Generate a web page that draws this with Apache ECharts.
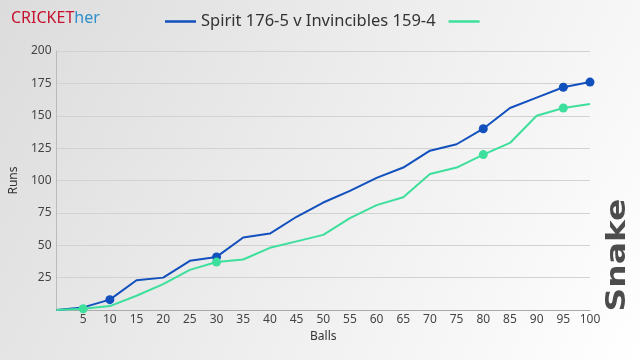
<!DOCTYPE html>
<html>
<head>
<meta charset="utf-8">
<script src="https://cdn.jsdelivr.net/npm/echarts@6/dist/echarts.min.js"></script>
<style>
html,body{margin:0;padding:0;}
#c{width:640px;height:360px;}
</style>
</head>
<body>
<div id="c"></div>
<script>
var balls = [0,5,10,15,20,25,30,35,40,45,50,55,60,65,70,75,80,85,90,95,100];
var spiritRuns = [0,2,8,23,25,38,41,56,59,72,83,92,102,110,123,128,140,156,164,172,176];
var invinciblesRuns = [0,1,3,11,20,31,37,39,48,53,58,71,81,87,105,110,120,129,150,156,159];
var spiritWickets = [10,30,80,95,100];
var invinciblesWickets = [5,30,80,95];
var legendName1 = 'Spirit 176-5 v Invincibles 159-4';
var legendName2 = ' ';
var yTicks = [25,50,75,100,125,150,175,200];

function build(runs, wk){
  return balls.map(function(b,i){
    var item = {value:[b, runs[i]]};
    if (wk.indexOf(b) >= 0) { item.symbol = 'circle'; item.symbolSize = 9; }
    else { item.symbol = 'none'; }
    return item;
  });
}

var chart = echarts.init(document.getElementById('c'), null, {renderer:'canvas'});
var font = 'Noto Sans';
chart.setOption({
  animation:false,
  backgroundColor:{type:'linear',x:0,y:0,x2:1,y2:1,colorStops:[{offset:0,color:'#dcdcdc'},{offset:1,color:'#ffffff'}]},
  title:{
    text:'{a|CRICKET}{b|her}',
    left:6, top:5,
    textStyle:{fontWeight:'normal',rich:{a:{color:'#c4122f',fontSize:16,fontFamily:font,fontWeight:'normal'},b:{color:'#2e8fcc',fontSize:16,fontFamily:font,fontWeight:'normal'}}}
  },
  legend:{
    top:8, left:160,
    itemWidth:31, itemHeight:2.5, itemGap:13,
    textStyle:{fontSize:16.5,color:'#333',fontFamily:font},
    data:[{name:legendName1, icon:'rect'}, {name:legendName2, icon:'rect'}]
  },
  grid:{left:51,right:50,top:51,bottom:50},
  xAxis:{
    type:'value', min:0, max:100, interval:5,
    name:'Balls', nameLocation:'middle', nameGap:21,
    nameTextStyle:{fontSize:12,color:'#333',fontFamily:font},
    axisLine:{show:true,lineStyle:{color:'#aaaaaa'}},
    axisTick:{show:false},
    splitLine:{show:false},
    axisLabel:{fontSize:12,color:'#444',fontFamily:font,margin:4,formatter:function(v){return v===0?'':String(v);}}
  },
  yAxis:{
    type:'value', min:0, max:200, interval:25,
    name:'Runs', nameLocation:'middle', nameGap:33,
    nameTextStyle:{fontSize:12,color:'#333',fontFamily:font},
    axisLine:{show:true,lineStyle:{color:'#bbbbbb'}},
    axisTick:{show:false},
    splitLine:{show:true,lineStyle:{color:'#d2d2d2'}},
    axisLabel:{fontSize:12,color:'#444',fontFamily:font,margin:5,formatter:function(v){return yTicks.indexOf(v)>=0?String(v):'';}}
  },
  graphic:[{
    type:'text', x:618, y:255, rotation:Math.PI/2, scaleX:1.22,
    style:{text:'Snake', fill:'#4c4c4c', font:'bold 27px "DejaVu Sans"', align:'center', verticalAlign:'middle'}
  }],
  series:[
    {name:legendName1, type:'line', data:build(spiritRuns, spiritWickets), color:'#1150bd',
     lineStyle:{width:2,color:'#1150bd'}, itemStyle:{color:'#1150bd'}, symbol:'none'},
    {name:legendName2, type:'line', data:build(invinciblesRuns, invinciblesWickets), color:'#3ddf9c',
     lineStyle:{width:2,color:'#3ddf9c'}, itemStyle:{color:'#3ddf9c'}, symbol:'none'}
  ]
});
</script>
</body>
</html>
